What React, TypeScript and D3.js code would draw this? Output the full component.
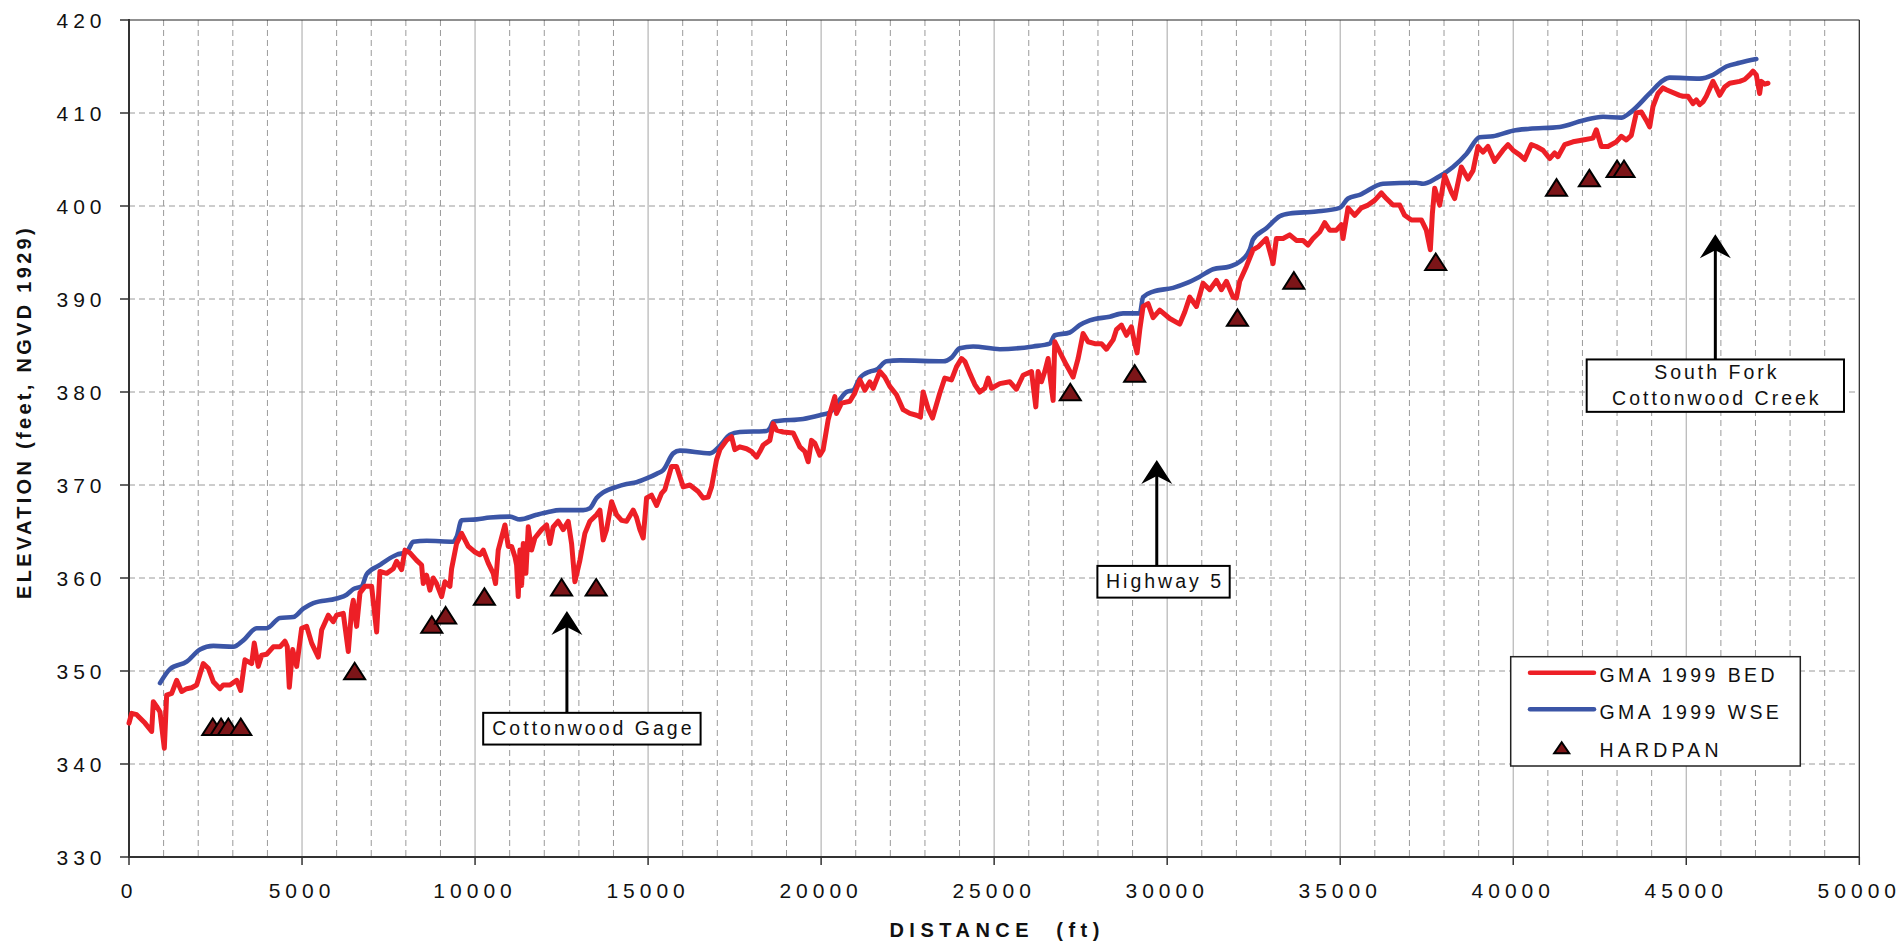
import React from "react";
import * as d3 from "d3";

// ---- data ----
const bedDist = [0,77,222,462,655,703,799,896,1021,1088,1233,1377,1522,1667,1811,1955,2147,2291,2436,2629,2725,2918,3110,3227,3351,3544,3620,3736,3833,3978,4170,4362,4507,4574,4632,4729,4845,4989,5134,5278,5470,5567,5759,5903,6000,6192,6337,6433,6481,6578,6674,6818,7011,7156,7251,7444,7636,7733,7878,7974,8118,8311,8455,8503,8600,8696,8792,8888,9033,9129,9274,9322,9466,9611,9803,9996,10141,10237,10381,10525,10592,10670,10863,10959,11055,11151,11200,11248,11296,11345,11393,11469,11537,11633,11729,11922,12066,12163,12258,12403,12547,12692,12789,12885,13029,13174,13318,13511,13607,13703,13800,13945,14089,14233,14378,14570,14667,14763,14859,14956,15100,15245,15389,15485,15678,15823,16015,16208,16447,16592,16737,16834,16978,17074,17267,17411,17507,17651,17845,17989,18134,18230,18326,18519,18615,18711,18903,19192,19385,19530,19626,19722,19818,19963,20059,20203,20252,20396,20444,20589,20830,20974,21119,21263,21408,21504,21697,21841,21985,22178,22370,22563,22756,22871,22948,23092,23219,23430,23574,23767,23911,24056,24152,24296,24441,24585,24730,24826,24923,25163,25452,25645,25837,26079,26204,26270,26367,26463,26559,26628,26704,26752,26896,27089,27281,27426,27570,27714,27907,28100,28245,28437,28533,28678,28823,28967,29063,29130,29208,29304,29448,29593,29785,30074,30363,30508,30652,30845,31037,31230,31423,31567,31712,31904,32000,32096,32289,32481,32625,32866,33011,33059,33155,33348,33540,33733,33925,34070,34214,34407,34552,34696,34889,35033,35081,35226,35418,35611,35804,35996,36189,36334,36526,36719,36863,37056,37345,37489,37605,37663,37730,37875,38019,38211,38308,38500,38692,38837,38981,39126,39270,39462,39703,39848,39993,40185,40330,40523,40667,40860,41052,41197,41293,41486,41727,42016,42304,42401,42545,42737,42978,43123,43268,43412,43557,43701,43846,43942,44038,44183,44327,44424,44808,44905,45050,45194,45291,45387,45483,45580,45772,45868,45965,46109,46254,46543,46687,46832,46928,47024,47120,47169,47265,47361];
const bedElev = [344.4,345.45,345.3,344.4,343.5,346.7,346.2,345.6,341.7,347.4,347.6,349.0,347.8,348.1,348.2,348.5,350.8,350.3,348.85,348.1,348.5,348.5,349.0,347.9,351.2,350.8,353.0,350.5,351.7,351.8,352.6,352.6,353.2,352.6,348.25,352.3,350.5,354.6,354.8,353.0,351.5,354.4,356.0,355.3,356.0,356.2,352.1,356.6,357.6,354.8,358.4,359.1,359.1,354.2,360.7,360.5,361.0,361.8,360.9,363.0,362.7,361.9,361.4,359.4,360.3,358.7,360.0,359.4,358.0,359.6,359.1,361.0,363.7,364.8,363.4,362.8,362.5,363.0,361.6,360.5,359.4,363.0,365.7,363.4,363.4,362.3,361.4,358.0,363.0,359.2,363.7,360.5,365.5,363.0,364.3,365.2,365.7,363.7,365.5,366.1,365.2,366.1,363.7,359.6,361.9,364.8,366.1,366.8,367.3,364.1,365.2,368.2,366.8,366.2,366.1,367.3,366.5,365.2,364.3,368.6,368.9,367.8,369.1,369.5,372.0,372.0,369.8,370.0,369.3,368.6,368.7,369.8,372.7,373.8,374.8,375.2,373.8,374.1,373.9,373.6,373.0,373.6,374.3,374.8,376.6,375.9,375.7,375.6,374.1,373.6,372.5,374.8,374.5,373.2,373.8,377.0,377.7,379.5,377.7,378.8,379.0,379.9,381.3,380.2,381.1,380.4,382.2,381.6,380.6,379.7,378.1,377.7,377.5,377.3,380.0,378.2,377.2,379.9,381.5,381.3,382.7,383.6,383.3,382.0,380.8,380.0,380.4,381.5,380.4,380.9,381.1,380.3,381.8,382.2,378.4,382.2,381.1,382.2,383.6,381.3,379.1,385.4,384.3,382.9,381.6,383.6,386.3,385.4,385.2,385.2,384.6,385.6,386.7,387.2,386.1,387.0,385.2,384.2,386.7,389.2,389.5,388.0,388.8,387.9,387.3,388.6,390.2,389.2,391.7,391.0,392.0,391.0,391.9,390.2,390.1,391.9,393.5,395.3,395.6,396.5,394.5,393.8,396.5,396.5,396.9,396.3,396.3,395.8,396.5,397.2,398.2,397.4,397.4,398.0,396.5,399.8,399.0,399.8,400.1,400.6,401.4,400.8,400.1,400.1,399.0,398.5,398.5,397.4,395.3,399.2,401.9,400.1,403.3,401.5,400.8,404.2,402.9,403.8,406.4,405.8,406.4,404.8,406.0,406.6,406.0,405.5,405.0,406.6,406.4,406.0,405.1,405.7,405.3,406.6,406.9,407.1,407.3,408.2,406.4,406.4,406.9,407.5,407.1,407.6,410.0,410.1,409.2,408.5,410.7,412.1,412.7,412.5,411.9,411.8,411.8,411.0,411.4,410.9,411.2,411.8,413.4,412.7,411.9,412.8,413.2,413.4,413.6,414.1,414.5,414.1,412.1,413.4,413.1,413.2];

const wseDist = [896,1184,1667,2051,2436,3013,3303,3688,3978,4362,4747,5036,5325,6000,6289,6481,6722,6867,7251,7444,7733,8023,8215,8600,9369,9466,9611,10045,10430,11007,11296,11778,12114,12451,13125,13318,13511,13703,14089,14378,14667,14956,15245,15437,15726,15919,16785,17074,17363,17651,18423,18519,18615,18807,19481,19963,20252,20541,20734,20926,21119,21408,21600,21889,22274,23526,23767,24007,24392,25163,26126,26607,26752,27185,27474,27763,28341,28726,29208,29304,29593,30171,30556,30941,31326,31808,32096,32385,32481,32866,33251,33540,34312,34986,35226,35563,36237,37201,37393,37779,38259,38646,39030,39415,39993,40475,41342,42016,42594,43124,43364,43942,44327,44520,45387,45772,46157,46543,47024];
const wseElev = [348.7,350.2,351.0,352.3,352.7,352.6,353.3,354.6,354.6,355.7,355.8,356.7,357.3,357.8,358.2,358.8,359.1,360.4,361.4,361.9,362.5,362.8,363.9,364.0,363.9,364.4,366.2,366.3,366.5,366.6,366.3,366.8,367.1,367.3,367.3,367.5,368.6,369.2,369.8,370.1,370.3,370.7,371.2,371.6,373.4,373.7,373.4,374.2,375.4,375.7,375.8,376.1,376.8,376.9,377.1,377.5,377.8,379.2,380.0,380.2,381.5,382.2,382.4,383.3,383.4,383.3,383.7,384.7,384.9,384.6,384.9,385.2,386.1,386.4,387.2,387.7,388.1,388.45,388.45,390.2,390.8,391.2,391.7,392.4,393.2,393.5,394.0,395.3,396.4,397.6,398.9,399.2,399.4,399.8,400.8,401.2,402.4,402.5,402.4,403.0,404.2,405.6,407.4,407.5,408.1,408.3,408.5,409.2,409.6,409.5,410.0,412.1,413.5,413.8,413.7,414.1,415.0,415.4,415.8];

const hardpanDist = [2420,2660,2870,3230,6520,8750,9150,10270,12500,13500,27200,29060,32030,33660,37760,41250,42200,43000,43200];
const hardpanElev = [344,344,344,344,350,355,356,358,359,359,380,382,388,392,394,402,403,404,404];

const xTicks = d3.range(0, 50001, 5000);
const xMinor = d3.range(1000, 50000, 1000).filter((v) => v % 5000 !== 0);
const yTicks = d3.range(330, 421, 10);

const seriesNames = ["GMA 1999 BED", "GMA 1999 WSE", "HARDPAN"];

const annotLines = [["Cottonwood Gage"], ["Highway 5"], ["South Fork", "Cottonwood Creek"]];
const annotArrowDist = [12654, 29699, 45840];
const annotTipElev = [356.45, 372.7, 396.96];
const annotBoxTopElev = [345.5, 361.3, 383.5];
const annotBoxCenterDist = [13376, 29895, 45840];

const RED = "#ED1F26";
const BLUE = "#3B55A6";
const HP_FILL = "#7C1518";
const FONT = "'Liberation Sans', Arial, Helvetica, sans-serif";

function tri(cx: number, cy: number, w = 20, h = 16) {
  return `M${cx},${cy - h / 2}L${cx + w / 2},${cy + h / 2}L${cx - w / 2},${cy + h / 2}Z`;
}

export default function App() {
  const W = 1902, H = 944;
  const x = d3.scaleLinear().domain([0, 50000]).range([129, 1859.3]);
  const y = d3.scaleLinear().domain([330, 420]).range([857, 20]);
  const [x0, x1] = x.range();
  const [yb, yt] = y.range();

  const bedPts: [number, number][] = bedDist.map((d, i) => [d, bedElev[i]]);
  const wsePts: [number, number][] = wseDist.map((d, i) => [d, wseElev[i]]);
  const bedLine = d3.line<[number, number]>().x((d) => x(d[0])).y((d) => y(d[1]));
  const wseLine = d3
    .line<[number, number]>()
    .x((d) => x(d[0]))
    .y((d) => y(d[1]))
    .curve(d3.curveMonotoneX);

  const boxW = [217.4, 132.3, 257.3];
  const lineH = 25.5;

  return (
    <svg
      width={W}
      height={H}
      style={{ position: "absolute", left: 0, top: 0, display: "block", background: "#fff" }}
      fontFamily={FONT}
    >
      <rect x={0} y={0} width={W} height={H} fill="#fff" />
      {/* grid */}
      {xMinor.map((v) => (
        <line key={"xm" + v} x1={x(v)} x2={x(v)} y1={yt} y2={yb} stroke="#9a9a9a" strokeWidth={1} strokeDasharray="6,4" />
      ))}
      {xTicks.filter((v) => v > 0 && v < 50000).map((v) => (
        <line key={"xM" + v} x1={x(v)} x2={x(v)} y1={yt} y2={yb} stroke="#b4b4b4" strokeWidth={1.2} />
      ))}
      {yTicks.filter((v) => v > 330 && v < 420).map((v) => (
        <line key={"yg" + v} x1={x0} x2={x1} y1={y(v)} y2={y(v)} stroke="#9a9a9a" strokeWidth={1} strokeDasharray="6,4" />
      ))}
      {/* frame */}
      <line x1={x0} x2={x1} y1={yt} y2={yt} stroke="#222" strokeWidth={1.2} />
      <line x1={x1} x2={x1} y1={yt} y2={yb} stroke="#222" strokeWidth={1.2} />
      <line x1={x0} x2={x0} y1={yt - 1} y2={yb + 1} stroke="#333" strokeWidth={2} />
      <line x1={x0 - 1} x2={x1} y1={yb} y2={yb} stroke="#333" strokeWidth={2} />
      {/* ticks and labels */}
      {yTicks.map((v) => (
        <g key={"yt" + v}>
          <line x1={x0 - 9} x2={x0} y1={y(v)} y2={y(v)} stroke="#333" strokeWidth={1.5} />
          <text x={106.5} y={y(v) + 8} textAnchor="end" fontSize={21} letterSpacing={5} fill="#111">
            {v}
          </text>
        </g>
      ))}
      {xTicks.map((v) => (
        <g key={"xt" + v}>
          <line x1={x(v)} x2={x(v)} y1={yb} y2={yb + 8} stroke="#333" strokeWidth={1.5} />
          <text x={x(v)} y={898} textAnchor="middle" fontSize={21} letterSpacing={5} fill="#111">
            {v}
          </text>
        </g>
      ))}
      {/* axis titles */}
      <text
        transform={`translate(31,412) rotate(-90)`}
        textAnchor="middle"
        fontSize={20}
        fontWeight="bold"
        letterSpacing={3.3}
        fill="#111"
      >
        ELEVATION (feet, NGVD 1929)
      </text>
      <text x={(x0 + x1) / 2 + 3} y={937} textAnchor="middle" fontSize={20} fontWeight="bold" letterSpacing={5.5} fill="#111" style={{ whiteSpace: "pre" }}>
        {"DISTANCE  (ft)"}
      </text>

      {/* series */}
      <path d={wseLine(wsePts) || ""} fill="none" stroke={BLUE} strokeWidth={4.6} strokeLinejoin="round" strokeLinecap="round" />
      <path d={bedLine(bedPts) || ""} fill="none" stroke={RED} strokeWidth={5} strokeLinejoin="round" strokeLinecap="round" />
      {hardpanDist.map((d, i) => (
        <path key={"hp" + i} d={tri(x(d), y(hardpanElev[i]), 21, 16.5)} fill={HP_FILL} stroke="#000" strokeWidth={2} strokeLinejoin="miter" />
      ))}

      {/* annotations */}
      {annotLines.map((lines, i) => {
        const ax = x(annotArrowDist[i]);
        const tipY = y(annotTipElev[i]);
        const boxTop = y(annotBoxTopElev[i]);
        const cx = x(annotBoxCenterDist[i]);
        const bh = lines.length === 1 ? 31.7 : 52.4;
        return (
          <g key={"an" + i}>
            <line x1={ax} x2={ax} y1={boxTop} y2={tipY + 14} stroke="#000" strokeWidth={3} />
            <path d={`M${ax},${tipY}L${ax + 15.5},${tipY + 24}L${ax},${tipY + 16}L${ax - 15.5},${tipY + 24}Z`} fill="#000" />
            <rect x={cx - boxW[i] / 2} y={boxTop} width={boxW[i]} height={bh} fill="#fff" stroke="#000" strokeWidth={2} />
            {lines.map((t, j) => (
              <text
                key={j}
                x={cx + 1.5}
                y={boxTop + (lines.length === 1 ? 21.8 : 19.8 + j * lineH)}
                textAnchor="middle"
                fontSize={19.5}
                letterSpacing={3}
                fill="#111"
              >
                {t}
              </text>
            ))}
          </g>
        );
      })}

      {/* legend */}
      <rect x={1510.7} y={656.7} width={289.6} height={109.3} fill="#fff" stroke="#222" strokeWidth={1.5} />
      {seriesNames.map((n, i) => {
        const ly = [672.7, 709.3, 747.7][i];
        return (
          <g key={"lg" + i}>
            {i < 2 ? (
              <line x1={1530} x2={1594} y1={ly} y2={ly} stroke={i === 0 ? RED : BLUE} strokeWidth={4.5} strokeLinecap="round" />
            ) : (
              <path d={tri(1561.7, ly, 15, 11)} fill={HP_FILL} stroke="#000" strokeWidth={2} />
            )}
            <text x={1599.5} y={ly + 9.5} fontSize={19.5} letterSpacing={i === 2 ? 4.2 : 3.4} fill="#111">
              {n}
            </text>
          </g>
        );
      })}
    </svg>
  );
}
